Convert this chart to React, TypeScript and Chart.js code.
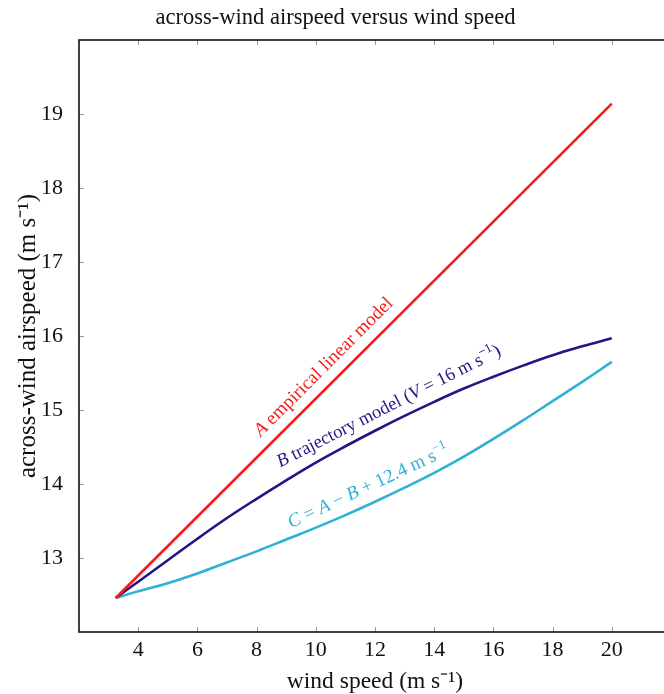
import React, { useEffect, useRef } from "react";
import { Chart, registerables } from "chart.js";

Chart.register(...registerables);

// ---- data ----
const windSpeed = [3.24, 4, 5, 6, 7, 8, 9, 10, 11, 12, 13, 14, 15, 16, 17, 18, 19, 20];
const trajectoryB = [12.46, 12.68, 12.97, 13.26, 13.54, 13.8, 14.05, 14.29, 14.51, 14.72, 14.92, 15.11, 15.29, 15.45, 15.6, 15.74, 15.86, 15.97];
const combinedC = [12.46, 12.55, 12.66, 12.79, 12.94, 13.09, 13.25, 13.41, 13.58, 13.76, 13.95, 14.15, 14.37, 14.61, 14.86, 15.12, 15.38, 15.65];
const linearAX = [3.24, 20];
const linearAY = [12.46, 19.14];

const xTickValues = [4, 6, 8, 10, 12, 14, 16, 18, 20];
const yTickValues = [13, 14, 15, 16, 17, 18, 19];

const titleText = "across-wind airspeed versus wind speed";
const xTitle = "wind speed (m s\u207B\u00B9)";
const yTitle = "across-wind airspeed (m s\u207B\u00B9)";

// label anchors (data coords) and text runs
const labelAnchorX = [10.24, 12.45, 11.76];
const labelAnchorY = [15.59, 15.06, 13.98];
const labelAngles = [-45, -27, -25];
type Run = { t: string; i?: boolean; sup?: boolean };
const labelRuns: Run[][] = [
  [{ t: "A", i: true }, { t: " empirical linear model" }],
  [{ t: "B", i: true }, { t: " trajectory model (" }, { t: "V", i: true }, { t: " = 16 m s" }, { t: "\u22121", sup: true }, { t: ")" }],
  [{ t: "C", i: true }, { t: " = " }, { t: "A", i: true }, { t: " \u2212 " }, { t: "B", i: true }, { t: " + 12.4 m s" }, { t: "\u22121", sup: true }],
];
const labelSizes = [19, 18.5, 19];

const RED = "#fa1a1a";
const NAVY = "#201684";
const CYAN = "#2db2d5";
const labelColors = [RED, NAVY, CYAN];

const FONT = '"Liberation Serif", "Times New Roman", Times, serif';

const toPoints = (xs: number[], ys: number[]) => xs.map((x, k) => ({ x, y: ys[k] }));

const framePlugin = {
  id: "frame",
  afterDraw(chart: any) {
    const { ctx, chartArea, scales } = chart;
    const { left, right, top, bottom } = chartArea;
    ctx.save();
    ctx.strokeStyle = "#9a9a9a";
    ctx.lineWidth = 1;
    const tl = 5;
    xTickValues.forEach((v) => {
      const px = Math.round(scales.x.getPixelForValue(v)) + 0.5;
      ctx.beginPath();
      ctx.moveTo(px, bottom);
      ctx.lineTo(px, bottom - tl);
      ctx.moveTo(px, top);
      ctx.lineTo(px, top + tl);
      ctx.stroke();
    });
    yTickValues.forEach((v) => {
      const py = Math.round(scales.y.getPixelForValue(v)) + 0.5;
      ctx.beginPath();
      ctx.moveTo(left, py);
      ctx.lineTo(left + tl, py);
      ctx.moveTo(right, py);
      ctx.lineTo(right - tl, py);
      ctx.stroke();
    });
    ctx.strokeStyle = "#111";
    ctx.lineWidth = 1.6;
    ctx.strokeRect(left, top, right - left, bottom - top);
    ctx.restore();
  },
};

const labelPlugin = {
  id: "curveLabels",
  afterDatasetsDraw(chart: any) {
    const { ctx, scales } = chart;
    labelRuns.forEach((runs, k) => {
      const size = labelSizes[k];
      const px = scales.x.getPixelForValue(labelAnchorX[k]);
      const py = scales.y.getPixelForValue(labelAnchorY[k]);
      ctx.save();
      ctx.translate(px, py);
      ctx.rotate((labelAngles[k] * Math.PI) / 180);
      ctx.fillStyle = labelColors[k];
      ctx.textBaseline = "alphabetic";
      ctx.textAlign = "left";
      const fontFor = (r: Run) =>
        `${r.i ? "italic " : ""}${r.sup ? Math.round(size * 0.68) : size}px ${FONT}`;
      let total = 0;
      runs.forEach((r) => {
        ctx.font = fontFor(r);
        total += ctx.measureText(r.t).width;
      });
      let cx = -total / 2;
      const base = size * 0.33;
      runs.forEach((r) => {
        ctx.font = fontFor(r);
        ctx.fillText(r.t, cx, r.sup ? base - size * 0.42 : base);
        cx += ctx.measureText(r.t).width;
      });
      ctx.restore();
    });
  },
};

export default function App() {
  const ref = useRef<HTMLCanvasElement | null>(null);
  useEffect(() => {
    document.body.style.margin = "0";
    const canvas = ref.current;
    if (!canvas) return;
    const chart = new Chart(canvas, {
      type: "scatter",
      data: {
        datasets: [
          {
            label: "A",
            data: toPoints(linearAX, linearAY),
            showLine: true,
            borderColor: RED,
            borderWidth: 2.6,
            pointRadius: 0,
          },
          {
            label: "B",
            data: toPoints(windSpeed, trajectoryB),
            showLine: true,
            borderColor: NAVY,
            borderWidth: 2.6,
            pointRadius: 0,
            tension: 0.4,
          },
          {
            label: "C",
            data: toPoints(windSpeed, combinedC),
            showLine: true,
            borderColor: CYAN,
            borderWidth: 2.6,
            pointRadius: 0,
            tension: 0.4,
          },
        ],
      },
      options: {
        responsive: false,
        animation: false,
        devicePixelRatio: 1,
        layout: { padding: 0 },
        plugins: {
          legend: { display: false },
          tooltip: { enabled: false },
          title: {
            display: true,
            text: titleText,
            color: "#111",
            font: { family: FONT, size: 22.5, weight: "normal", lineHeight: 1.2 },
            padding: { top: 4.5, bottom: 8.5 },
          },
        },
        scales: {
          x: {
            type: "linear",
            min: 2,
            max: 22,
            afterBuildTicks: (scale: any) => {
              scale.ticks = xTickValues.map((v) => ({ value: v }));
            },
            afterFit: (scale: any) => {
              scale.height = 62;
            },
            grid: { display: false, drawTicks: false },
            border: { display: false },
            ticks: {
              color: "#111",
              padding: 5,
              maxRotation: 0,
              autoSkip: false,
              font: { family: FONT, size: 22 },
            },
            title: {
              display: true,
              text: xTitle,
              color: "#111",
              font: { family: FONT, size: 23.5, lineHeight: 1 },
              padding: { top: 0, bottom: 0 },
            },
          },
          y: {
            type: "linear",
            min: 12,
            max: 20,
            afterBuildTicks: (scale: any) => {
              scale.ticks = yTickValues.map((v) => ({ value: v }));
            },
            afterFit: (scale: any) => {
              scale.width = 79;
            },
            grid: { display: false, drawTicks: false },
            border: { display: false },
            ticks: {
              color: "#111",
              padding: 16,
              autoSkip: false,
              font: { family: FONT, size: 22 },
            },
            title: {
              display: true,
              text: yTitle,
              color: "#111",
              font: { family: FONT, size: 25, lineHeight: 1 },
              padding: { top: 15.5, bottom: 0 },
            },
          },
        },
      },
      plugins: [framePlugin, labelPlugin],
    } as any);
    return () => chart.destroy();
  }, []);
  return (
    <div style={{ position: "absolute", left: 0, top: 0, width: 664, height: 694, overflow: "hidden", background: "#fff" }}>
      <canvas ref={ref} width={671} height={694} style={{ display: "block" }} />
    </div>
  );
}
